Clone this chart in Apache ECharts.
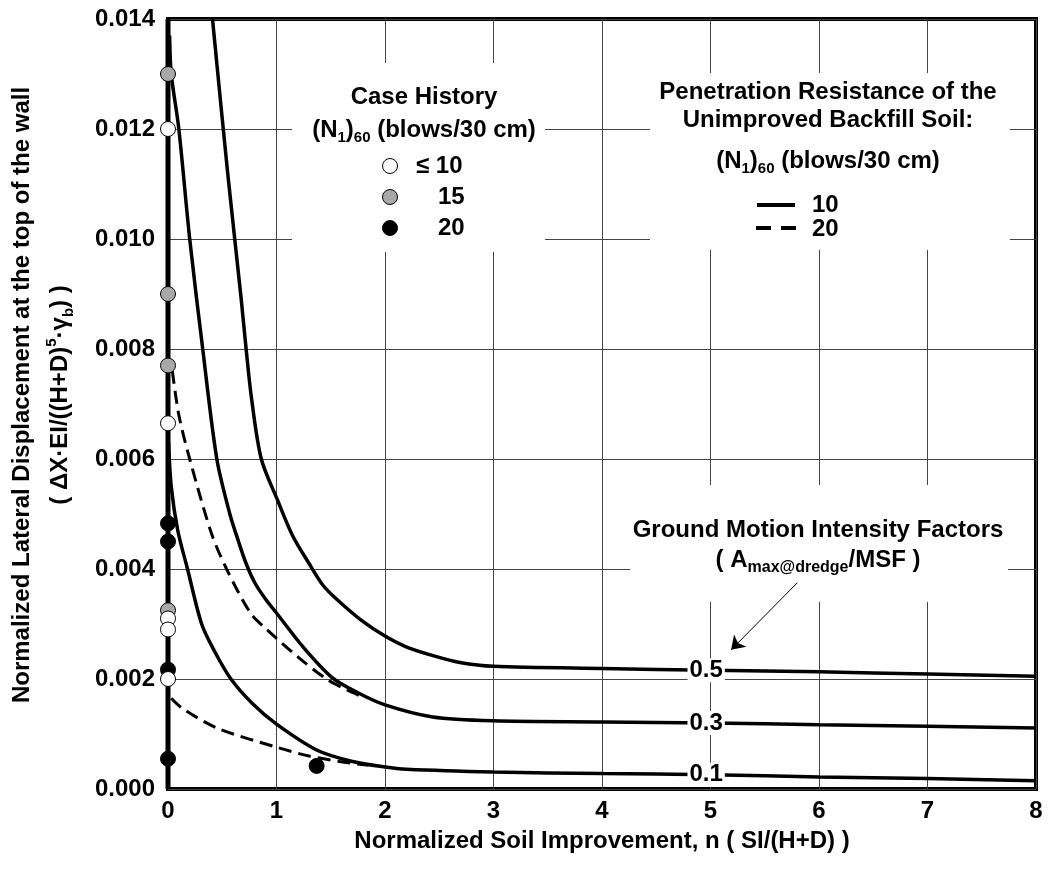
<!DOCTYPE html>
<html>
<head>
<meta charset="utf-8">
<script src="https://cdn.jsdelivr.net/npm/echarts@6/dist/echarts.min.js"></script>
<style>
  html, body { margin: 0; padding: 0; background: #fff; }
  #chart { width: 1049px; height: 869px; }
</style>
</head>
<body>
<div id="chart"></div>
<script>
// curves for N=10 (solid), one per ground motion factor
const curve05 = [[0.41,0.0140],[0.55,0.0112],[0.675,0.0089],[0.72,0.0080],[0.77,0.0071],[0.86,0.0060],[1.01,0.00525],[1.15,0.0046],[1.30,0.0041],[1.43,0.0037],[1.56,0.00344],[1.78,0.00307],[2.00,0.00278],[2.20,0.00258],[2.45,0.00242],[2.69,0.0023],[3.00,0.00223],[4.00,0.00219],[5.00,0.00216],[6.00,0.00213],[7.00,0.00209],[8.00,0.00205]];
const curve03 = [[0.015,0.0137],[0.03,0.0130],[0.10,0.0120],[0.20,0.0100],[0.32,0.0080],[0.45,0.0060],[0.57,0.0050],[0.65,0.0045],[0.72,0.0041],[0.80,0.00375],[0.90,0.00345],[1.00,0.0032],[1.25,0.00257],[1.51,0.00203],[1.75,0.00175],[2.00,0.00153],[2.44,0.00131],[3.00,0.00124],[4.00,0.00122],[5.00,0.00120],[6.00,0.00117],[7.00,0.00114],[8.00,0.00111]];
const curve01 = [[0.005,0.0063],[0.03,0.0055],[0.09,0.0047],[0.18,0.0040],[0.31,0.0030],[0.43,0.0025],[0.58,0.0020],[0.78,0.00155],[1.00,0.00118],[1.37,0.00071],[1.70,0.0005],[2.00,0.0004],[2.20,0.00036],[3.00,0.00031],[4.00,0.00028],[5.00,0.00026],[6.00,0.00022],[7.00,0.00019],[8.00,0.00015]];
// curves for N=20 (dashed)
const dash20a = [[0.04,0.0076],[0.10,0.0068],[0.20,0.0060],[0.40,0.00465],[0.54,0.0040],[0.76,0.0032],[0.91,0.0029],[1.21,0.00238],[1.46,0.0020],[1.65,0.0018],[1.80,0.00167]];
const dash20b = [[0.03,0.00165],[0.13,0.00147],[0.45,0.00111],[1.00,0.00076],[1.30,0.0006],[1.61,0.00049],[1.85,0.00043]];

// case histories
const caseLe10 = [[0,0.0120],[0,0.00665],[0,0.0031],[0,0.0029],[0,0.0020]];
const case15 = [[0,0.0130],[0,0.0090],[0,0.0077],[0,0.00325]];
const case20 = [[0,0.00483],[0,0.0045],[0,0.00217],[0,0.00055],[1.37,0.00042]];

// labels on the curves at n ~ 5
const factorLabels = [[4.96,0.00216,'0.5'],[4.96,0.00120,'0.3'],[4.96,0.00026,'0.1']];
const arrowFrom = [5.80,0.00375];
const arrowTo = [5.19,0.00253];

const xTicks = ['0','1','2','3','4','5','6','7','8'];
const yTicks = ['0.000','0.002','0.004','0.006','0.008','0.010','0.012','0.014'];

const FONT = '"Liberation Sans", Arial, sans-serif';

const chart = echarts.init(document.getElementById('chart'));

function lineSeries(name, data, dashed) {
    return {
        name: name,
        type: 'line',
        data: data,
        showSymbol: false,
        smooth: 0.3,
        z: 3,
        lineStyle: {
            color: '#000',
            width: dashed ? 3 : 3.5,
            type: dashed ? [13, 7] : 'solid'
        },
        silent: true
    };
}

function caseSeries(name, data, color) {
    return {
        name: name,
        type: 'scatter',
        data: data,
        symbol: 'circle',
        symbolSize: 15,
        clip: false,
        z: 5,
        itemStyle: { color: color, borderColor: '#000', borderWidth: 1, opacity: 1 }
    };
}

const boldText = (size) => ({ fontFamily: FONT, fontWeight: 'bold', fontSize: size, fill: '#000' });
const subRich = {
    a: { fontFamily: FONT, fontWeight: 'bold', fontSize: 24, lineHeight: 30, color: '#000' },
    s: { fontFamily: FONT, fontWeight: 'bold', fontSize: 15, lineHeight: 15, color: '#000', verticalAlign: 'bottom' }
};

const option = {
    animation: false,
    backgroundColor: '#fff',
    grid: {
        left: 168, right: 13, top: 19, bottom: 80,
        show: true, borderColor: '#000', borderWidth: 4, backgroundColor: 'transparent'
    },
    xAxis: {
        type: 'value', min: 0, max: 8, interval: 1,
        axisLine: { show: false },
        axisTick: { show: false },
        axisLabel: {
            margin: 10, fontFamily: FONT, fontWeight: 'bold', fontSize: 24, color: '#000',
            formatter: v => xTicks[Math.round(v)]
        },
        splitLine: { show: true, lineStyle: { color: '#444', width: 1 } },
        name: 'Normalized Soil Improvement, n ( SI/(H+D) )',
        nameLocation: 'middle', nameGap: 40,
        nameTextStyle: { fontFamily: FONT, fontWeight: 'bold', fontSize: 24, color: '#000' }
    },
    yAxis: {
        type: 'value', min: 0, max: 0.014, interval: 0.002,
        axisLine: { show: false },
        axisTick: { show: false },
        axisLabel: {
            margin: 13, fontFamily: FONT, fontWeight: 'bold', fontSize: 24, color: '#000',
            formatter: v => yTicks[Math.round(v / 0.002)]
        },
        splitLine: { show: true, lineStyle: { color: '#444', width: 1 } }
    },
    series: [
        lineSeries('0.5', curve05, false),
        lineSeries('0.3', curve03, false),
        lineSeries('0.1', curve01, false),
        lineSeries('20a', dash20a, true),
        lineSeries('20b', dash20b, true),
        {
            // y axis drawn thick on top of the border
            type: 'line', data: [[0, 0], [0, 0.014]], showSymbol: false, z: 4, silent: true,
            lineStyle: { color: '#000', width: 5 }
        },
        caseSeries('15', case15, '#a8a8a8'),
        caseSeries('20', case20, '#000'),
        caseSeries('<=10', caseLe10, '#fff'),
        {
            type: 'scatter',
            data: factorLabels,
            symbolSize: 1,
            z: 6,
            silent: true,
            itemStyle: { opacity: 1, color: '#fff' },
            label: {
                show: true, position: 'inside',
                formatter: p => p.value[2],
                fontFamily: FONT, fontWeight: 'bold', fontSize: 24, color: '#000',
                backgroundColor: '#fff', padding: [0, 2]
            },
            markLine: {
                silent: true,
                symbol: ['none', 'arrow'],
                symbolSize: 13,
                label: { show: false },
                lineStyle: { color: '#000', width: 1, type: 'solid', opacity: 1 },
                data: [[{ coord: arrowFrom }, { coord: arrowTo }]]
            }
        }
    ],
    graphic: [
        // white patches behind the annotation blocks (grid lines are broken there)
        { type: 'rect', z: 1, silent: true, shape: { x: 292, y: 63, width: 253, height: 189 }, style: { fill: '#fff' } },
        { type: 'rect', z: 1, silent: true, shape: { x: 650, y: 73, width: 360, height: 177 }, style: { fill: '#fff' } },
        { type: 'rect', z: 1, silent: true, shape: { x: 630, y: 485, width: 378, height: 117 }, style: { fill: '#fff' } },

        // case history legend
        { type: 'text', z: 2, x: 424, y: 97, style: Object.assign(boldText(24), { text: 'Case History', textAlign: 'center', textVerticalAlign: 'middle' }) },
        { type: 'text', z: 2, x: 424, y: 130, style: { text: '{a|(N}{s|1}{a|)}{s|60}{a| (blows/30 cm)}', rich: subRich, textAlign: 'center', textVerticalAlign: 'middle' } },
        { type: 'circle', z: 2, shape: { cx: 390, cy: 166, r: 7.5 }, style: { fill: '#fff', stroke: '#000', lineWidth: 1 } },
        { type: 'circle', z: 2, shape: { cx: 390, cy: 197, r: 7.5 }, style: { fill: '#a8a8a8', stroke: '#000', lineWidth: 1 } },
        { type: 'circle', z: 2, shape: { cx: 390, cy: 228, r: 7.5 }, style: { fill: '#000', stroke: '#000', lineWidth: 1 } },
        { type: 'text', z: 2, x: 416, y: 166, style: Object.assign(boldText(24), { text: '\u2264 10', textVerticalAlign: 'middle' }) },
        { type: 'text', z: 2, x: 438, y: 197, style: Object.assign(boldText(24), { text: '15', textVerticalAlign: 'middle' }) },
        { type: 'text', z: 2, x: 438, y: 228, style: Object.assign(boldText(24), { text: '20', textVerticalAlign: 'middle' }) },

        // backfill soil legend
        { type: 'text', z: 2, x: 828, y: 92, style: Object.assign(boldText(24), { text: 'Penetration Resistance of the', textAlign: 'center', textVerticalAlign: 'middle' }) },
        { type: 'text', z: 2, x: 828, y: 120, style: Object.assign(boldText(24), { text: 'Unimproved Backfill Soil:', textAlign: 'center', textVerticalAlign: 'middle' }) },
        { type: 'text', z: 2, x: 828, y: 161, style: { text: '{a|(N}{s|1}{a|)}{s|60}{a| (blows/30 cm)}', rich: subRich, textAlign: 'center', textVerticalAlign: 'middle' } },
        { type: 'line', z: 2, shape: { x1: 757, y1: 205, x2: 795, y2: 205 }, style: { stroke: '#000', lineWidth: 4 } },
        { type: 'line', z: 2, shape: { x1: 756, y1: 228, x2: 796, y2: 228 }, style: { stroke: '#000', lineWidth: 4, lineDash: [15, 10] } },
        { type: 'text', z: 2, x: 812, y: 205, style: Object.assign(boldText(24), { text: '10', textVerticalAlign: 'middle' }) },
        { type: 'text', z: 2, x: 812, y: 229, style: Object.assign(boldText(24), { text: '20', textVerticalAlign: 'middle' }) },

        // ground motion factor note
        { type: 'text', z: 2, x: 818, y: 530, style: Object.assign(boldText(24), { text: 'Ground Motion Intensity Factors', textAlign: 'center', textVerticalAlign: 'middle' }) },
        { type: 'text', z: 2, x: 818, y: 560, style: {
            text: '{a|( A}{s|max@dredge}{a|/MSF )}', textAlign: 'center', textVerticalAlign: 'middle',
            rich: {
                a: { fontFamily: FONT, fontWeight: 'bold', fontSize: 24, lineHeight: 32, color: '#000' },
                s: { fontFamily: FONT, fontWeight: 'bold', fontSize: 16, lineHeight: 16, color: '#000', verticalAlign: 'bottom' }
            }
        } },

        // y axis title, two lines
        { type: 'text', x: 22, y: 395, rotation: Math.PI / 2, style: Object.assign(boldText(24), { text: 'Normalized Lateral Displacement at the top of the wall', textAlign: 'center', textVerticalAlign: 'middle' }) },
        { type: 'text', x: 60, y: 395, rotation: Math.PI / 2, style: {
            text: '{a|( \u0394X\u00b7EI/((H+D)}{p|5}{a|\u00b7\u03b3}{s|b}{a|) )}', textAlign: 'center', textVerticalAlign: 'middle',
            rich: {
                a: { fontFamily: FONT, fontWeight: 'bold', fontSize: 24, lineHeight: 32, color: '#000' },
                p: { fontFamily: FONT, fontWeight: 'bold', fontSize: 15, lineHeight: 15, color: '#000', verticalAlign: 'top' },
                s: { fontFamily: FONT, fontWeight: 'bold', fontSize: 15, lineHeight: 15, color: '#000', verticalAlign: 'bottom' }
            }
        } }
    ]
};

chart.setOption(option);
</script>
</body>
</html>
